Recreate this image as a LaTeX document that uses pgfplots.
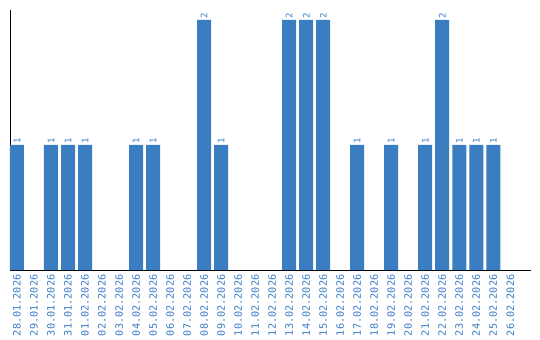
\documentclass[border=0pt]{standalone}
\usepackage{pgfplots}
\pgfplotsset{compat=1.18}
\usepackage{fontspec}
\setmainfont{DejaVu Sans}
\newfontfamily\monofont{DejaVu Sans Mono}
\definecolor{barblue}{RGB}{59,125,193}
\definecolor{lblblue}{RGB}{58,125,200}
\begin{document}
\begin{tikzpicture}
\begin{axis}[
 scale only axis, width=520.7bp, height=260bp,
 xmin=-0.41, xmax=30.2, ymin=0, ymax=2.08,
 axis x line=bottom, axis y line=left,
 axis line style={-, black, line width=1bp},
 ytick=\empty,
 xtick={0,...,29}, major tick length=0pt,
 xticklabels={28.01.2026,29.01.2026,30.01.2026,31.01.2026,01.02.2026,02.02.2026,03.02.2026,04.02.2026,05.02.2026,06.02.2026,07.02.2026,08.02.2026,09.02.2026,10.02.2026,11.02.2026,12.02.2026,13.02.2026,14.02.2026,15.02.2026,16.02.2026,17.02.2026,18.02.2026,19.02.2026,20.02.2026,21.02.2026,22.02.2026,23.02.2026,24.02.2026,25.02.2026,26.02.2026},
 xticklabel style={rotate=90, anchor=east, font=\monofont\fontsize{10.2bp}{12bp}\selectfont, text=lblblue, inner sep=4.5bp},
 /pgf/number format/assume math mode=true,
 ybar, bar width=14bp, bar shift=0pt,
 nodes near coords,
 nodes near coords style={rotate=90, anchor=west, font=\monofont\fontsize{9bp}{10bp}\selectfont, text=lblblue, inner sep=1.5bp},
 clip=false,
]
\addplot[fill=barblue, draw=none] coordinates {
 (0,1) (2,1) (3,1) (4,1) (7,1) (8,1) (11,2) (12,1) (16,2) (17,2) (18,2)
 (20,1) (22,1) (24,1) (25,2) (26,1) (27,1) (28,1)
};
\end{axis}
\pgfresetboundingbox
\path ([xshift=-10bp,yshift=-70bp]current axis.south west) rectangle ++(540bp,340bp);
\end{tikzpicture}
\end{document}
